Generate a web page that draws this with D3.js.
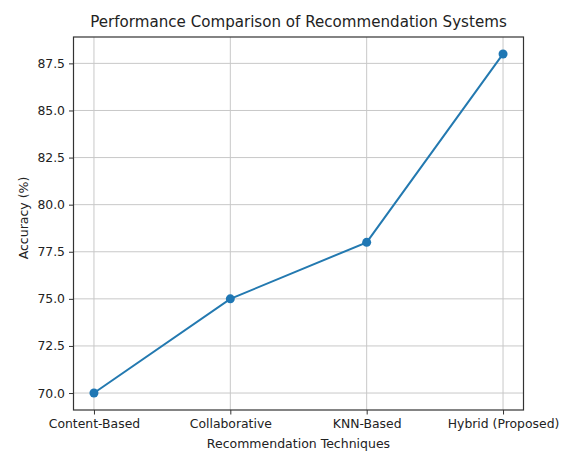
<!DOCTYPE html>
<html>
<head>
<meta charset="utf-8">
<script src="https://cdn.jsdelivr.net/npm/d3@7"></script>
<style>
  body { margin: 0; background: #fff; }
  svg text { font-family: "DejaVu Sans", sans-serif; fill: #222; }
</style>
</head>
<body>
<svg id="chart" width="571" height="451"></svg>
<script>
// Chart data
var techniques = ["Content-Based", "Collaborative", "KNN-Based", "Hybrid (Proposed)"];
var accuracy = [70, 75, 78, 88];
var yTicks = [70.0, 72.5, 75.0, 77.5, 80.0, 82.5, 85.0, 87.5];

var svg = d3.select("#chart");
var plotLeft = 73.5, plotRight = 523.5, plotTop = 37, plotBottom = 410;

// matplotlib style 5% margins
var x = d3.scaleLinear().domain([-0.15, 3.15]).range([plotLeft, plotRight]);
var y = d3.scaleLinear().domain([69.1, 88.9]).range([plotBottom, plotTop]);

// grid lines
svg.append("g").selectAll("line")
    .data(techniques)
    .enter().append("line")
    .attr("x1", function (d, i) { return x(i); })
    .attr("x2", function (d, i) { return x(i); })
    .attr("y1", plotTop).attr("y2", plotBottom)
    .attr("stroke", "#c8c8c8").attr("stroke-width", 1);

svg.append("g").selectAll("line")
    .data(yTicks)
    .enter().append("line")
    .attr("x1", plotLeft).attr("x2", plotRight)
    .attr("y1", function (d) { return y(d); })
    .attr("y2", function (d) { return y(d); })
    .attr("stroke", "#c8c8c8").attr("stroke-width", 1);

// axes
var xAxis = d3.axisBottom(x)
    .tickValues(d3.range(techniques.length))
    .tickFormat(function (i) { return techniques[i]; })
    .tickSizeOuter(0).tickSizeInner(4.5).tickPadding(5);
var yAxis = d3.axisLeft(y)
    .tickValues(yTicks)
    .tickFormat(d3.format(".1f"))
    .tickSizeOuter(0).tickSizeInner(4.5).tickPadding(4);

var gx = svg.append("g").attr("transform", "translate(0," + plotBottom + ")").call(xAxis);
var gy = svg.append("g").attr("transform", "translate(" + plotLeft + ",0)").call(yAxis);
[gx, gy].forEach(function (g) {
    g.select(".domain").remove();
    g.selectAll(".tick line").attr("stroke", "#333").attr("stroke-width", 1);
    g.selectAll(".tick text").attr("font-size", "12.4px").attr("fill", "#222")
        .attr("font-family", "DejaVu Sans, sans-serif");
});

// frame
svg.append("rect")
    .attr("x", plotLeft).attr("y", plotTop)
    .attr("width", plotRight - plotLeft).attr("height", plotBottom - plotTop)
    .attr("fill", "none").attr("stroke", "#333").attr("stroke-width", 1.2);

// line + markers
var line = d3.line()
    .x(function (d, i) { return x(i); })
    .y(function (d) { return y(d); });

svg.append("path")
    .datum(accuracy)
    .attr("d", line)
    .attr("fill", "none")
    .attr("stroke", "#2379b0")
    .attr("stroke-width", 2);

svg.selectAll("circle.pt")
    .data(accuracy)
    .enter().append("circle")
    .attr("class", "pt")
    .attr("cx", function (d, i) { return x(i); })
    .attr("cy", function (d) { return y(d); })
    .attr("r", 4.5)
    .attr("fill", "#1f77b4");

// labels
svg.append("text")
    .attr("x", (plotLeft + plotRight) / 2).attr("y", 27)
    .attr("text-anchor", "middle")
    .attr("font-size", "15.1px")
    .text("Performance Comparison of Recommendation Systems");

svg.append("text")
    .attr("x", (plotLeft + plotRight) / 2).attr("y", 448)
    .attr("text-anchor", "middle")
    .attr("font-size", "12.5px")
    .text("Recommendation Techniques");

svg.append("text")
    .attr("transform", "translate(28,218) rotate(-90)")
    .attr("text-anchor", "middle")
    .attr("font-size", "12.5px")
    .text("Accuracy (%)");
</script>
</body>
</html>
